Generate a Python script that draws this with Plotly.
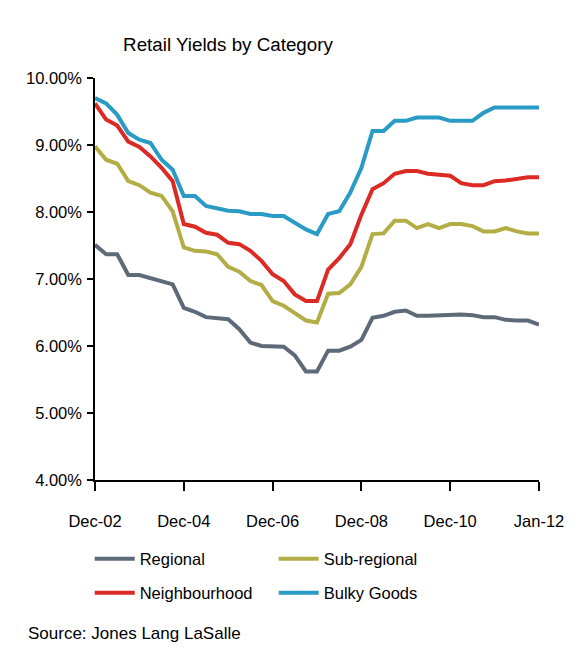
import numpy as np
import plotly.graph_objects as go

# quarterly retail yields (%), Dec-02 .. Jan-12
period = np.arange(41)
tick_pos = [0, 8, 16, 24, 32, 40]
tick_labels = ["Dec-02", "Dec-04", "Dec-06", "Dec-08", "Dec-10", "Jan-12"]

regional = [7.51, 7.37, 7.37, 7.06, 7.06, 7.01, 6.96, 6.92, 6.57, 6.51,
            6.43, 6.42, 6.40, 6.25, 6.05, 6.00, 5.99, 5.99, 5.86, 5.62,
            5.62, 5.93, 5.93, 5.99, 6.09, 6.42, 6.45, 6.51, 6.53, 6.45,
            6.45, 6.46, 6.47, 6.47, 6.46, 6.43, 6.43, 6.39, 6.38, 6.38, 6.32]
sub_regional = [8.98, 8.78, 8.72, 8.46, 8.40, 8.29, 8.24, 8.01, 7.47, 7.42,
                7.41, 7.37, 7.18, 7.11, 6.97, 6.91, 6.67, 6.60, 6.49, 6.38,
                6.35, 6.78, 6.79, 6.92, 7.18, 7.67, 7.68, 7.87, 7.87, 7.76,
                7.82, 7.76, 7.82, 7.82, 7.79, 7.71, 7.71, 7.76, 7.71, 7.68, 7.68]
neighbourhood = [9.62, 9.38, 9.29, 9.05, 8.97, 8.83, 8.66, 8.46, 7.82, 7.78,
                 7.69, 7.66, 7.54, 7.52, 7.42, 7.27, 7.07, 6.97, 6.77, 6.67,
                 6.67, 7.14, 7.31, 7.52, 7.96, 8.34, 8.43, 8.57, 8.61, 8.61,
                 8.57, 8.55, 8.54, 8.43, 8.40, 8.40, 8.46, 8.47, 8.50, 8.52, 8.52]
bulky_goods = [9.70, 9.62, 9.45, 9.18, 9.08, 9.03, 8.78, 8.63, 8.24, 8.24,
               8.09, 8.06, 8.02, 8.01, 7.97, 7.97, 7.94, 7.94, 7.84, 7.74,
               7.67, 7.97, 8.01, 8.29, 8.66, 9.21, 9.21, 9.36, 9.36, 9.41,
               9.41, 9.41, 9.36, 9.36, 9.36, 9.48, 9.56, 9.56, 9.56, 9.56, 9.56]

series = [
    ("Regional", regional, "#5E6A78", "legend"),
    ("Sub-regional", sub_regional, "#B3AD45", "legend"),
    ("Neighbourhood", neighbourhood, "#DC2A25", "legend2"),
    ("Bulky Goods", bulky_goods, "#2A9BC4", "legend2"),
]

FONT = "Liberation Sans, Arial, sans-serif"
W, H = 579, 653
# page puts the figure 8px in from the top-left corner
OFF = 8

fig = go.Figure()
for name, vals, col, leg in series:
    fig.add_trace(go.Scatter(
        x=period, y=np.array(vals) / 100, name=name, mode="lines",
        line=dict(color=col, width=4), legend=leg))

legend_style = dict(orientation="h", xref="container", yref="container",
                    x=81.7 / W, xanchor="left", yanchor="middle",
                    font=dict(size=16.5, color="black"), itemwidth=40,
                    entrywidth=129, bgcolor="rgba(0,0,0,0)")

fig.update_layout(
    width=W, height=H,
    margin=dict(l=87, r=48, t=70, b=178),
    paper_bgcolor="white", plot_bgcolor="white",
    font=dict(family=FONT, color="black"),
    title=dict(text="Retail Yields by Category", font=dict(size=18.8),
               x=(228 - OFF) / W, xanchor="center", y=1 - (44 - OFF) / H,
               yanchor="middle"),
    legend=dict(legend_style, y=1 - (559 - OFF) / H),
    legend2=dict(legend_style, y=1 - (593 - OFF) / H),
    showlegend=True,
)
fig.update_xaxes(
    range=[0, 40], tickvals=tick_pos, ticktext=tick_labels,
    showgrid=False, zeroline=False, showline=True, linecolor="black", linewidth=1.5,
    ticks="outside", ticklen=9, tickwidth=1.5, tickcolor="black",
    ticklabelstandoff=16, tickfont=dict(size=16.5))
fig.update_yaxes(
    range=[0.04, 0.10], dtick=0.01, tickformat=".2%",
    showgrid=False, zeroline=False, showline=True, linecolor="black", linewidth=1.5,
    ticks="outside", ticklen=6, tickwidth=1.5, tickcolor="black",
    ticklabelstandoff=2, tickfont=dict(size=16.5))

fig.add_annotation(text="Source: Jones Lang LaSalle", xref="paper", yref="paper",
                   x=(18 - 87) / 444, y=-(630 - 475) / 405,
                   xanchor="left", yanchor="middle",
                   showarrow=False, font=dict(size=17))

fig.write_html("out.html")
